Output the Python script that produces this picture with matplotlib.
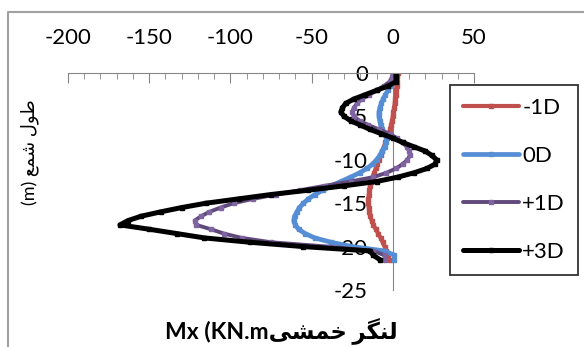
import matplotlib
matplotlib.use("Agg")
import matplotlib.pyplot as plt
from matplotlib.ticker import MultipleLocator
from matplotlib.lines import Line2D

# depth along pile (m)
depth = [0, -0.5, -1, -1.5, -2, -2.5, -3, -3.5, -4, -4.5, -5, -5.5, -6, -6.5, -7, -7.5,
         -8, -8.5, -9, -9.5, -10, -10.5, -11, -11.5, -12, -12.5, -13, -13.5, -14, -14.5,
         -15, -15.5, -16, -16.5, -17, -17.5, -18, -18.5, -19, -19.5, -20, -20.5, -21, -21.5]

# bending moment Mx (KN.m)
m_minus1d = [3, 2.8, 2.5, 2.3, 2, 1.8, 1.5, 1.2, 0.8, 0.4, 0, -0.5, -1, -1.7, -2.5, -3.5,
             -4.5, -5.5, -6.5, -7.5, -8.5, -9.5, -10.5, -11.5, -12.5, -13.3, -14, -14.5, -14.8, -15,
             -15, -14.8, -14.5, -13.8, -13, -12, -10.5, -9, -7.5, -6.2, -5, -4, -3, -2]
m_0d = [1, 0.8, 0, -1.5, -3, -4.5, -6, -7, -8, -8.5, -8.5, -8, -7.5, -6.5, -4.5, -4,
        -4, -5, -6.5, -8, -10, -12.5, -16, -20.5, -26, -32, -38, -43, -48, -52,
        -55, -57.5, -59, -60.5, -61, -60, -58, -54, -48, -38, -25, -5, 1, 1]
m_plus1d = [0, -0.5, -2, -5.5, -10, -14.5, -19, -22, -24, -25, -24, -20.5, -15, -8.5, -2, 2.5,
            6, 8.5, 10, 10.5, 9, 6, 2, -4, -12, -26, -42, -57, -72, -86,
            -98, -106, -113, -118, -122, -121, -112, -104, -93, -75, -40, -12, -5, -5]
m_plus3d = [2, 2, 2, -3, -10, -17, -24, -29, -31, -32, -30, -26, -20, -14, -7, 0,
            6, 13, 20, 24, 27, 26, 21, 13, 3, -10, -30, -52, -75, -95,
            -115, -130, -143, -155, -163, -168, -150, -133, -116, -88, -55, -14, -12, -8]

labels = ["-1D", "0D", "+1D", "+3D"]
series = [m_minus1d, m_0d, m_plus1d, m_plus3d]
line_cols = ["#c0504d", "#558ed5", "#604a7b", "#000000"]
mark_cols = ["#c0504d", "#558ed5", "#8064a2", "#000000"]
widths = [3, 3.4, 2.8, 3.6]

fam = ["Lato", "DejaVu Sans"]
plt.rcParams["font.family"] = fam
plt.rcParams["axes.unicode_minus"] = False

W, H = 584, 347
fig = plt.figure(figsize=(W / 100, H / 100), dpi=100)
ax = fig.add_axes([68 / W, 1 - 290 / H, 406 / W, 217 / H])

for vals, lab, lc, mc, lw in zip(series, labels, line_cols, mark_cols, widths):
    ax.plot(vals, depth, color=lc, lw=lw, marker="s", ms=3.4, mfc=mc, mec=mc,
            label=lab, solid_capstyle="round")

ax.set_xlim(-200, 50)
ax.set_ylim(-25, 0)

ax.spines["right"].set_visible(False)
ax.spines["bottom"].set_visible(False)
ax.spines["top"].set_color("#868686")
ax.spines["left"].set_color("#868686")
ax.spines["left"].set_position(("data", 0))
ax.spines["left"].set_zorder(0)

ax.xaxis.set_major_locator(MultipleLocator(50))
ax.xaxis.set_minor_locator(MultipleLocator(10))
ax.tick_params(axis="x", which="both", top=True, bottom=False, labeltop=True,
               labelbottom=False, direction="in", color="#868686", labelsize=16, pad=18)
ax.tick_params(axis="x", which="major", length=7)
ax.tick_params(axis="x", which="minor", length=4)
ax.tick_params(axis="y", length=0, labelsize=16, pad=18)

ax.set_xticks([-200, -150, -100, -50, 0, 50])
ax.set_yticks([0, -5, -10, -15, -20, -25])

leg = ax.legend(loc="upper left", bbox_to_anchor=(0.941, 0.945), fontsize=16,
                frameon=True, fancybox=False, edgecolor="black", handlelength=2.5,
                handletextpad=0.15, labelspacing=1.25, borderpad=0.6, numpoints=1,
                borderaxespad=0)
leg.get_frame().set_linewidth(1.3)

# axis titles (Arabic in visual order, presentation forms)
xlab = "Mx (KN.m" + "\uFBFD\uFEB8\uFEE4\uFEA7" + " " + "\uFEAE\uFB95\uFEE8\uFEDF"
ylab = "(m) " + "\uFECA\uFEE4\uFEB7" + " " + "\uFEDD\uFEEE\uFEC3"
fig.text(281 / W, 1 - 332 / H, xlab, ha="center", va="center", fontsize=16.5,
         fontweight="bold", family=fam)
fig.text(30 / W, 1 - 152 / H, ylab, ha="center", va="center", fontsize=13,
         rotation=90, family=fam)

# chart border
x0, y0 = 8 / W, 1 - 12 / H
fig.add_artist(Line2D([x0, x0, 1.0], [0.0, y0, y0], transform=fig.transFigure,
                      color="#a0a0a0", lw=1.5))

fig.savefig("out.png", dpi=100)
